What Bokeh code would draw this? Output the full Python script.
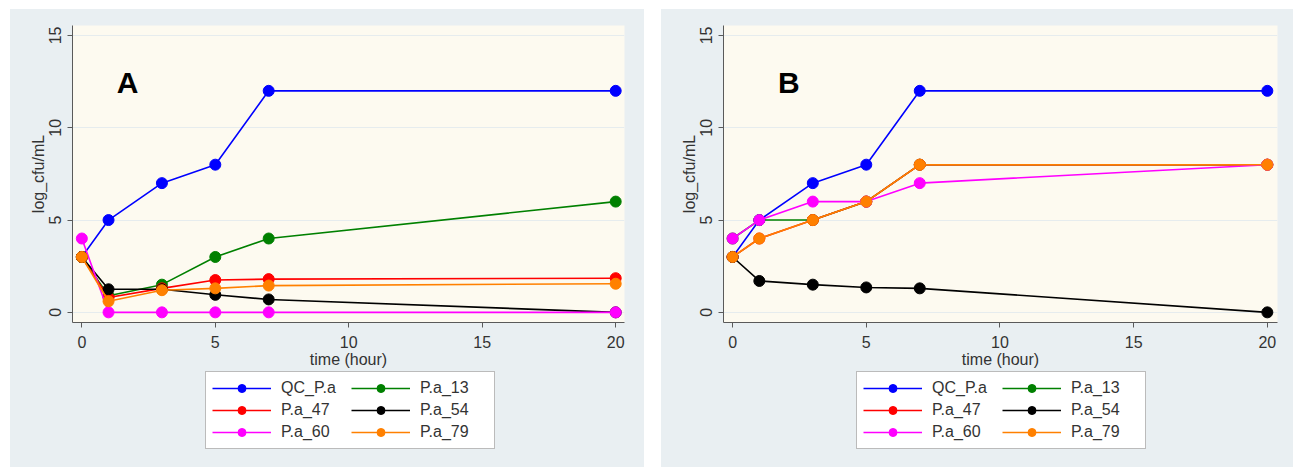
from bokeh.plotting import figure
from bokeh.models import Legend, LegendItem, FixedTicker, Spacer, Label
from bokeh.layouts import row, column
from bokeh.embed import file_html
from bokeh.resources import INLINE

# ---------------- data ----------------
time_h = [0, 1, 3, 5, 7, 20]
series_names = ["QC_P.a", "P.a_13", "P.a_47", "P.a_54", "P.a_60", "P.a_79"]
series_colors = ["#0000ff", "#008000", "#ff0000", "#000000", "#ff00ff", "#ff8000"]

# Panel A
a_qc = [3, 5, 7, 8, 12, 12]
a_13 = [3, 0.9, 1.5, 3, 4, 6]
a_47 = [3, 0.8, 1.3, 1.75, 1.8, 1.85]
a_54 = [3, 1.25, 1.25, 0.95, 0.7, 0]
a_60 = [4, 0, 0, 0, 0, 0]
a_79 = [3, 0.6, 1.2, 1.3, 1.45, 1.55]

# Panel B
b_qc = [3, 5, 7, 8, 12, 12]
b_13 = [4, 5, 5, 6, 8, 8]
b_47 = [3, 4, 5, 6, 8, 8]
b_54 = [3, 1.7, 1.5, 1.35, 1.3, 0]
b_60 = [4, 5, 6, 6, 7, 8]
b_79 = [3, 4, 5, 6, 8, 8]

x_ticks = [0, 5, 10, 15, 20]
y_ticks = [0, 5, 10, 15]

FONT = "Liberation Sans"
TXT = "#333333"
AX = "#5a5a5a"
PANEL = "#e9eff2"
PLOTBG = "#fdfaf0"


def make_panel(tag, series, width, right_border, x_range, tag_x, legend_x):
    p = figure(width=width, height=361, x_range=x_range, y_range=(-0.55, 15.54),
               output_backend="svg", toolbar_location=None,
               min_border_left=62, min_border_right=right_border,
               min_border_top=16, min_border_bottom=47)
    p.background_fill_color = PLOTBG
    p.border_fill_color = PANEL
    p.outline_line_color = None

    for ax in (p.xaxis[0], p.yaxis[0]):
        ax.axis_line_color = AX
        ax.major_tick_line_color = AX
        ax.major_tick_out = 5
        ax.major_tick_in = 0
        ax.minor_tick_line_color = None
        ax.major_label_text_font = FONT
        ax.major_label_text_font_size = "16px"
        ax.major_label_text_color = TXT
        ax.axis_label_text_font = FONT
        ax.axis_label_text_font_size = "16px"
        ax.axis_label_text_font_style = "normal"
        ax.axis_label_text_color = TXT
    p.xaxis.major_label_standoff = 8
    p.xaxis.axis_label_standoff = 0
    p.yaxis.major_label_standoff = 6
    p.yaxis.axis_label_standoff = 0

    p.xaxis.ticker = FixedTicker(ticks=x_ticks)
    p.yaxis.ticker = FixedTicker(ticks=y_ticks)
    p.xaxis.axis_label = "time (hour)"
    p.yaxis.axis_label = "log_cfu/mL"
    p.yaxis.major_label_orientation = "vertical"

    p.xgrid.grid_line_color = None
    p.ygrid.grid_line_color = "#e6ecee"
    p.ygrid.grid_line_width = 1

    for name, color, vals in zip(series_names, series_colors, series):
        p.line(time_h, vals, line_color=color, line_width=1.6)
        p.scatter(time_h, vals, size=11, fill_color=color, line_color=color)

    p.add_layout(Label(x=tag_x, y=12.45, text=tag, text_font=FONT,
                       text_font_size="30px", text_font_style="bold",
                       text_color="black", text_align="center",
                       text_baseline="alphabetic"))

    # legend strip below the plot, panel background comes from the column
    lg = figure(width=width, height=97, x_range=(0, 1), y_range=(0, 1),
                output_backend="svg", toolbar_location=None,
                x_axis_type=None, y_axis_type=None,
                min_border_left=62, min_border_right=right_border,
                min_border_top=0, min_border_bottom=0)
    lg.background_fill_alpha = 0
    lg.border_fill_alpha = 0
    lg.outline_line_color = None
    lg.grid.visible = False
    items = []
    for name, color in zip(series_names, series_colors):
        lr = lg.line([-5, -4], [-5, -4], line_color=color, line_width=1.3)
        sr = lg.scatter([-5, -4], [-5, -4], size=10, fill_color=color, line_color=color)
        items.append(LegendItem(label=name, renderers=[lr, sr]))
    order = [0, 2, 4, 1, 3, 5]
    legend = Legend(items=[items[i] for i in order], orientation="vertical", nrows=3,
                    location=(legend_x, 18))
    legend.border_line_color = "#777777"
    legend.border_line_width = 1
    legend.background_fill_color = "white"
    legend.background_fill_alpha = 1
    legend.label_text_font = FONT
    legend.label_text_font_size = "16px"
    legend.label_text_color = TXT
    legend.glyph_width = 59
    legend.glyph_height = 20
    legend.label_height = 20
    legend.label_width = 68
    legend.label_standoff = 10
    legend.padding = 6
    legend.spacing = 2
    legend.margin = 0
    lg.add_layout(legend, "center")
    return column(p, lg, spacing=0, styles={"background-color": PANEL})


pA = make_panel("A", [a_qc, a_13, a_47, a_54, a_60, a_79], 634, 20, (-0.35, 20.33), 1.71, 133)
pB = make_panel("B", [b_qc, b_13, b_47, b_54, b_60, b_79], 632, 16, (-0.34, 20.38), 2.1, 133)

layout = column(Spacer(height=9),
                row(Spacer(width=10), pA, Spacer(width=17), pB, spacing=0),
                spacing=0)

open("out.html", "w").write(file_html(layout, INLINE))
